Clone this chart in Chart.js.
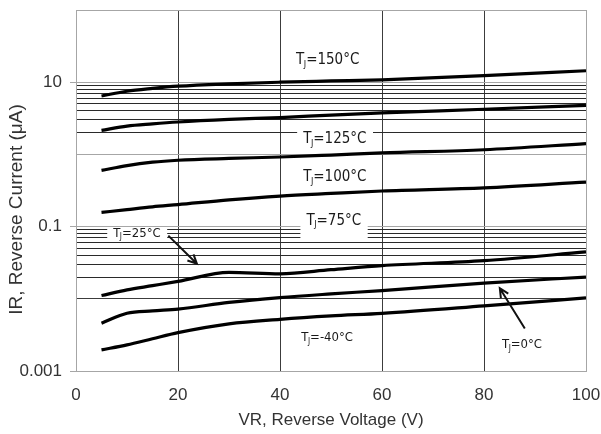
<!DOCTYPE html>
<html>
<head>
<meta charset="utf-8">
<script src="https://cdn.jsdelivr.net/npm/chart.js@4.4.1/dist/chart.umd.min.js"></script>
<style>
  html, body { margin: 0; padding: 0; background: #ffffff; }
  canvas { display: block; }
</style>
</head>
<body>
<canvas id="irChart" width="601" height="434"></canvas>
<script>
var voltage = [5, 10, 15, 20, 30, 40, 50, 60, 80, 100];

// reverse current (uA) for each junction temperature
var i150 = [6.45, 7.5, 8.2, 8.8, 9.5, 10.0, 10.4, 10.8, 12.3, 14.4];
var i125 = [2.15, 2.47, 2.65, 2.81, 3.05, 3.24, 3.5, 3.75, 4.22, 4.79];
var i100 = [0.60, 0.70, 0.78, 0.83, 0.88, 0.92, 0.98, 1.05, 1.16, 1.41];
var i75 = [0.157, 0.172, 0.188, 0.202, 0.235, 0.265, 0.288, 0.311, 0.343, 0.412];
var i25 = [0.0111, 0.0133, 0.0152, 0.0174, 0.0233, 0.0222, 0.0253, 0.0288, 0.0337, 0.0446];
var i0 = [0.0046, 0.0063, 0.0068, 0.0072, 0.0089, 0.0104, 0.0117, 0.013, 0.0165, 0.02];
var im40 = [0.00196, 0.0023, 0.0028, 0.0034, 0.0045, 0.0052, 0.0058, 0.0063, 0.008, 0.0103];

var seriesNames = ["150", "125", "100", "75", "25", "0", "-40"];
var seriesValues = [i150, i125, i100, i75, i25, i0, im40];

// axis ticks
var xTicks = [0, 20, 40, 60, 80, 100];
var yDecades = [0.001, 0.01, 0.1, 1, 10, 100];
var yLabeled = ["0.001", "0.1", "10"];
var yMinorDecades = [0.01, 1]; // decades that show the 2..9 lines

// curve labels, in data units (V, uA)
var curveLabels = [
  { t: "150", x: 49.4, y: 20.2, big: true, box: null },
  { t: "125", x: 50.8, y: 1.62, big: true, box: [9, 9] },
  { t: "100", x: 50.8, y: 0.487, big: true, box: null },
  { t: "75", x: 50.6, y: 0.121, big: true, box: [7, 21] },
  { t: "25", x: 12.0, y: 0.081, big: false, box: [6, 7] },
  { t: "-40", x: 49.3, y: 0.00287, big: false, box: null },
  { t: "0", x: 87.5, y: 0.0023, big: false, box: null }
];
var arrows = [
  { x1: 18.1, y1: 0.075, x2: 23.7, y2: 0.0306 },
  { x1: 88.0, y1: 0.00389, x2: 83.1, y2: 0.014 }
];

var yTickValues = [];
for (var d = 0; d < yDecades.length - 1; d++) {
  for (var k = 1; k <= 9; k++) {
    yTickValues.push(parseFloat((k * yDecades[d]).toPrecision(3)));
  }
}
yTickValues.push(100);

function isDecade(v) {
  return yDecades.some(function (d) { return Math.abs(v - d) < d * 1e-6; });
}
function inMinor(v) {
  return yMinorDecades.some(function (d) { return v > d * 1.0001 && v < d * 9.999; });
}

var datasets = seriesValues.map(function (vals, i) {
  return {
    label: "TJ=" + seriesNames[i] + "°C",
    data: voltage.map(function (v, j) { return { x: v, y: vals[j] }; }),
    borderColor: "#000000",
    borderWidth: 3.2,
    pointRadius: 0,
    fill: false,
    cubicInterpolationMode: "monotone"
  };
});

var labelFont = '"Liberation Sans Narrow", "DejaVu Sans Condensed", sans-serif';

var notes = {
  id: "notes",
  afterDatasetsDraw: function (chart) {
    var ctx = chart.ctx;
    var xs = chart.scales.x, ys = chart.scales.y;
    ctx.save();
    ctx.textBaseline = "middle";
    ctx.textAlign = "left";
    curveLabels.forEach(function (l) {
      var size = l.big ? 15 : 13;
      var sub = Math.round(size * 0.6);
      var mainF = size + "px " + labelFont;
      var subF = sub + "px " + labelFont;
      ctx.font = mainF;
      var wT = ctx.measureText("T").width;
      var rest = "=" + l.t + "°C";
      var wR = ctx.measureText(rest).width;
      ctx.font = subF;
      var wJ = ctx.measureText("J").width;
      var w = wT + wJ + wR;
      var cx = xs.getPixelForValue(l.x);
      var cy = ys.getPixelForValue(l.y);
      var x0 = cx - w / 2;
      if (l.box) {
        ctx.fillStyle = "#ffffff";
        ctx.fillRect(x0 - 6, cy - l.box[0], w + 12, l.box[0] + l.box[1]);
      }
      ctx.fillStyle = "#1a1a1a";
      ctx.font = mainF;
      ctx.fillText("T", x0, cy);
      ctx.font = subF;
      ctx.fillText("J", x0 + wT - 0.5, cy + size * 0.3);
      ctx.font = mainF;
      ctx.fillText(rest, x0 + wT + wJ - 0.5, cy);
    });
    ctx.strokeStyle = "#111111";
    ctx.lineWidth = 2;
    arrows.forEach(function (a) {
      var x1 = xs.getPixelForValue(a.x1), y1 = ys.getPixelForValue(a.y1);
      var x2 = xs.getPixelForValue(a.x2), y2 = ys.getPixelForValue(a.y2);
      var ang = Math.atan2(y2 - y1, x2 - x1);
      var h = 10;
      ctx.beginPath();
      ctx.moveTo(x1, y1);
      ctx.lineTo(x2, y2);
      ctx.moveTo(x2 - h * Math.cos(ang - 0.45), y2 - h * Math.sin(ang - 0.45));
      ctx.lineTo(x2, y2);
      ctx.lineTo(x2 - h * Math.cos(ang + 0.45), y2 - h * Math.sin(ang + 0.45));
      ctx.stroke();
    });
    ctx.restore();
  }
};

new Chart(document.getElementById("irChart").getContext("2d"), {
  type: "line",
  data: { datasets: datasets },
  plugins: [notes],
  options: {
    responsive: false,
    devicePixelRatio: 1,
    animation: false,
    events: [],
    layout: { padding: { top: 10, right: 15, left: 0, bottom: 0 } },
    plugins: { legend: { display: false }, tooltip: { enabled: false } },
    scales: {
      x: {
        type: "linear",
        min: 0,
        max: 100,
        afterFit: function (s) {
          s.height = 63;
          s.paddingLeft = 0; s.paddingRight = 0;
        },
        afterBuildTicks: function (s) {
          s.ticks = xTicks.map(function (v) { return { value: v }; });
        },
        ticks: {
          autoSkip: false,
          maxRotation: 0,
          padding: 14,
          color: "#333333",
          font: { family: "Liberation Sans", size: 17 }
        },
        grid: {
          drawTicks: false,
          color: function (c) {
            var v = c.tick ? c.tick.value : 0;
            return (v === 0 || v === 100) ? "#a6a6a6" : "#3c3c3c";
          }
        },
        border: { color: "#a6a6a6" },
        title: {
          display: true,
          text: "VR, Reverse Voltage (V)",
          color: "#333333",
          padding: { top: 0, bottom: 3 },
          font: { family: "Liberation Sans", size: 17 }
        }
      },
      y: {
        type: "logarithmic",
        min: 0.001,
        max: 100,
        afterFit: function (s) {
          s.width = 76;
          s.paddingTop = 0; s.paddingBottom = 0;
        },
        afterBuildTicks: function (s) {
          s.ticks = yTickValues.map(function (v) { return { value: v }; });
        },
        ticks: {
          autoSkip: false,
          padding: 8,
          color: "#333333",
          font: { family: "Liberation Sans", size: 17 },
          callback: function (v) {
            var hit = yLabeled.filter(function (s) { return Math.abs(parseFloat(s) - v) < v * 1e-6; });
            return hit.length ? hit[0] : "";
          }
        },
        grid: {
          tickLength: 6,
          color: function (c) {
            var v = c.tick ? c.tick.value : 0;
            if (Math.abs(v - 0.01) < 1e-9) return "#3c3c3c";
            if (isDecade(v)) return "#a6a6a6";
            if (inMinor(v)) return "#2a2a2a";
            return "rgba(0,0,0,0)";
          },
          tickColor: function (c) {
            var v = c.tick ? c.tick.value : 0;
            var hit = yLabeled.some(function (s) { return Math.abs(parseFloat(s) - v) < v * 1e-6; });
            return hit ? "#a6a6a6" : "rgba(0,0,0,0)";
          }
        },
        border: { color: "#a6a6a6" },
        title: {
          display: true,
          text: "IR, Reverse Current (μA)\u2003\u2003",
          color: "#333333",
          padding: { top: 5, bottom: 0 },
          font: { family: "Liberation Sans", size: 19 }
        }
      }
    }
  }
});
</script>
</body>
</html>
